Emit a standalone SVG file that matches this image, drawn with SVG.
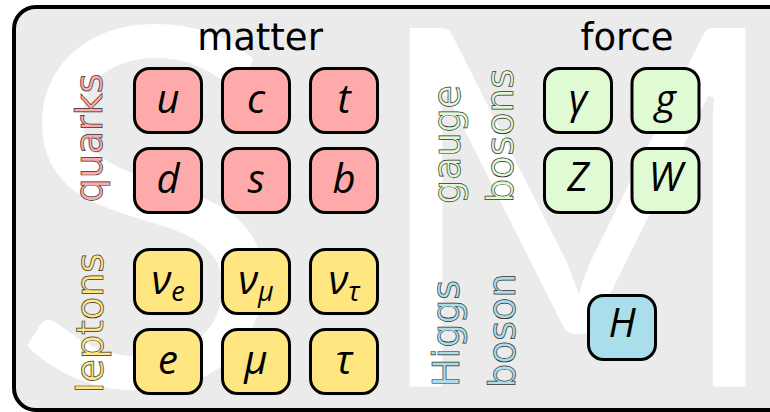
<svg xmlns="http://www.w3.org/2000/svg" width="770" height="412" viewBox="0 0 770 412">
<style>
.bg{fill:#ebebeb;stroke:#000;stroke-width:4}
.big{font-family:Lato,"Open Sans",sans-serif;font-size:510px;fill:#fff;stroke:#ebebeb;stroke-width:7}
.head{font-family:"DejaVu Sans","Open Sans",sans-serif;font-size:37px;fill:#000;text-anchor:middle}
.vl{font-family:"DejaVu Sans","Open Sans",sans-serif;font-size:38px;stroke:#333;stroke-width:0.7}
.box{stroke:#000;stroke-width:3}
.q{fill:#ffaaaa}.l{fill:#ffe680}.g{fill:#e0fbd3}.h{fill:#aadeea}
.sym{font-family:"Open Sans","DejaVu Sans",sans-serif;font-style:italic;font-size:40px;text-anchor:middle;fill:#000}
.sub{font-size:27px}
</style>
<rect class="bg" x="14" y="7" width="776" height="403" rx="22"/>
<g id="watermark">
<text class="big" x="5" y="390" transform="translate(0,0) scale(1.03,1)">S</text>
<text class="big" x="0" y="390" transform="translate(364.5,0) scale(0.9,1)">M</text>
</g>
<g id="headers">
<text class="head" x="260" y="50">matter</text>
<text class="head" x="627" y="50">force</text>
</g>
<g id="labels">
<text class="vl q" transform="translate(102,138) rotate(-90)" text-anchor="middle">quarks</text>
<text class="vl l" transform="translate(103,323) rotate(-90)" text-anchor="middle">leptons</text>
<text class="vl g" transform="translate(460,204) rotate(-90)">gauge</text>
<text class="vl g" transform="translate(513,203) rotate(-90)">bosons</text>
<text class="vl h" transform="translate(459,387) rotate(-90)">Higgs</text>
<text class="vl h" transform="translate(515,388) rotate(-90)">boson</text>
</g>
<g id="connectors"/>
<g id="u"><rect class="box q" x="134.5" y="68.5" width="67" height="64" rx="15"/><text class="sym" x="168" y="112.5">u</text></g>
<g id="c"><rect class="box q" x="222.5" y="68.5" width="67" height="64" rx="15"/><text class="sym" x="256" y="112.5">c</text></g>
<g id="t"><rect class="box q" x="310.5" y="68.5" width="67" height="64" rx="15"/><text class="sym" x="344" y="112.5">t</text></g>
<g id="d"><rect class="box q" x="134.5" y="148.5" width="67" height="64" rx="15"/><text class="sym" x="168" y="192.5">d</text></g>
<g id="s"><rect class="box q" x="222.5" y="148.5" width="67" height="64" rx="15"/><text class="sym" x="256" y="192.5">s</text></g>
<g id="b"><rect class="box q" x="310.5" y="148.5" width="67" height="64" rx="15"/><text class="sym" x="344" y="192.5">b</text></g>
<g id="nue"><rect class="box l" x="134.5" y="249.5" width="67" height="64" rx="15"/><text class="sym" x="168" y="293.5">ν<tspan class="sub" dy="7">e</tspan></text></g>
<g id="numu"><rect class="box l" x="222.5" y="249.5" width="67" height="64" rx="15"/><text class="sym" x="256" y="293.5">ν<tspan class="sub" dy="7">μ</tspan></text></g>
<g id="nutau"><rect class="box l" x="310.5" y="249.5" width="67" height="64" rx="15"/><text class="sym" x="344" y="293.5">ν<tspan class="sub" dy="7">τ</tspan></text></g>
<g id="e"><rect class="box l" x="134.5" y="329.5" width="67" height="64" rx="15"/><text class="sym" x="168" y="373.5">e</text></g>
<g id="mu"><rect class="box l" x="222.5" y="329.5" width="67" height="64" rx="15"/><text class="sym" x="256" y="373.5">μ</text></g>
<g id="tau"><rect class="box l" x="310.5" y="329.5" width="67" height="64" rx="15"/><text class="sym" x="344" y="373.5">τ</text></g>
<g id="gamma"><rect class="box g" x="544.5" y="68.5" width="67" height="64" rx="15"/><text class="sym" x="578" y="112.5">γ</text></g>
<g id="gluon"><rect class="box g" x="632" y="68.5" width="67" height="64" rx="15"/><text class="sym" x="665.5" y="112.5">g</text></g>
<g id="Z"><rect class="box g" x="544.5" y="148.5" width="67" height="64" rx="15"/><text class="sym" x="578" y="190.5">Z</text></g>
<g id="W"><rect class="box g" x="632" y="148.5" width="67" height="64" rx="15"/><text class="sym" x="665.5" y="190.5">W</text></g>
<g id="H"><rect class="box h" x="588.5" y="295.5" width="67" height="64" rx="15"/><text class="sym" x="622" y="337">H</text></g>
</svg>
